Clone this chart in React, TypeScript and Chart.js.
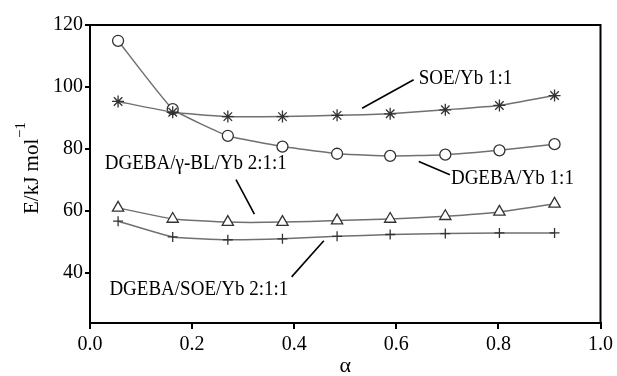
import React, { useEffect, useRef } from "react";
import { Chart, registerables } from "chart.js";

Chart.register(...registerables);

const alphaValues = [0.055, 0.162, 0.27, 0.377, 0.484, 0.588, 0.696, 0.802, 0.91];
const soeYb = [95.3, 91.8, 90.4, 90.4, 90.8, 91.3, 92.6, 94.0, 97.2];
const dgebaYb = [114.9, 92.8, 84.2, 80.7, 78.4, 77.7, 78.1, 79.5, 81.5];
const dgebaGblYb = [60.9, 57.3, 56.3, 56.3, 56.8, 57.3, 58.2, 59.6, 62.2];
const dgebaSoeYb = [56.6, 51.5, 50.6, 50.9, 51.7, 52.3, 52.6, 52.8, 52.8];

const xTicks = [0.0, 0.2, 0.4, 0.6, 0.8, 1.0];
const yTicks = [40, 60, 80, 100, 120];

// annotation labels (data coordinates) with leader lines
const labelTexts = ["SOE/Yb 1:1", "DGEBA/Yb 1:1", "DGEBA/γ-BL/Yb 2:1:1", "DGEBA/SOE/Yb 2:1:1"];
const labelAnchors = [
  [0.644, 102.6],
  [0.707, 70.4],
  [0.029, 75.4],
  [0.038, 34.7],
];
const leaderLines = [
  [0.533, 93.1, 0.634, 102.3],
  [0.644, 75.9, 0.705, 71.6],
  [0.286, 70.0, 0.322, 58.9],
  [0.395, 38.6, 0.458, 50.3],
];

const FONT = "'Liberation Serif', 'Times New Roman', serif";

const toPts = (ys: number[]) => ys.map((y, i) => ({ x: alphaValues[i], y }));

export default function App() {
  const ref = useRef<HTMLCanvasElement | null>(null);

  useEffect(() => {
    if (!ref.current) return;
    const lineColor = "#707070";
    const markColor = "#333";

    const decor = {
      id: "decor",
      afterDraw(chart: any) {
        const ctx = chart.ctx;
        const { left, right, top, bottom } = chart.chartArea;
        const xs = chart.scales.x;
        const ys = chart.scales.y;
        ctx.save();
        // frame top & right
        ctx.strokeStyle = "#000";
        ctx.lineWidth = 2;
        ctx.beginPath();
        ctx.moveTo(left, top);
        ctx.lineTo(right, top);
        ctx.lineTo(right, bottom);
        ctx.stroke();

        // leader lines
        ctx.lineWidth = 1.6;
        leaderLines.forEach((l) => {
          ctx.beginPath();
          ctx.moveTo(xs.getPixelForValue(l[0]), ys.getPixelForValue(l[1]));
          ctx.lineTo(xs.getPixelForValue(l[2]), ys.getPixelForValue(l[3]));
          ctx.stroke();
        });

        // labels (slightly tall type, as in the reference)
        ctx.fillStyle = "#000";
        ctx.font = `19px ${FONT}`;
        ctx.textBaseline = "middle";
        ctx.textAlign = "left";
        labelTexts.forEach((t, i) => {
          const px = xs.getPixelForValue(labelAnchors[i][0]);
          const py = ys.getPixelForValue(labelAnchors[i][1]);
          ctx.save();
          ctx.translate(px, py);
          ctx.scale(1, 1.12);
          ctx.fillText(t, 0, 0);
          ctx.restore();
        });

        // x title
        ctx.textAlign = "center";
        ctx.font = `22px ${FONT}`;
        ctx.fillText("α", (left + right) / 2, 366);

        // y title with superscript
        ctx.translate(30, (top + bottom) / 2 - 6);
        ctx.rotate(-Math.PI / 2);
        ctx.scale(1.05, 1.1);
        const main = "E/kJ mol";
        ctx.font = `20px ${FONT}`;
        const wMain = ctx.measureText(main).width;
        ctx.font = `14px ${FONT}`;
        const sup = "−1";
        const wSup = ctx.measureText(sup).width;
        const total = wMain + wSup + 1;
        ctx.textAlign = "left";
        ctx.textBaseline = "alphabetic";
        ctx.font = `20px ${FONT}`;
        ctx.fillText(main, -total / 2, 7);
        ctx.font = `14px ${FONT}`;
        ctx.fillText(sup, -total / 2 + wMain + 1, -5);
        ctx.restore();
      },
    };

    const mk = (label: string, data: number[], style: any, radius: number, bg: string) => ({
      label,
      data: toPts(data),
      borderColor: lineColor,
      borderWidth: 1.5,
      tension: 0.12,
      pointStyle: style,
      pointRadius: radius,
      pointBorderColor: markColor,
      pointBackgroundColor: bg,
      pointBorderWidth: 1.3,
    });

    const chart = new Chart(ref.current, {
      type: "line",
      data: {
        datasets: [
          mk("SOE/Yb 1:1", soeYb, "star", 6, markColor),
          mk("DGEBA/Yb 1:1", dgebaYb, "circle", 5.5, "#fff"),
          mk("DGEBA/γ-BL/Yb 2:1:1", dgebaGblYb, "triangle", 6.5, "#fff"),
          mk("DGEBA/SOE/Yb 2:1:1", dgebaSoeYb, "cross", 5, markColor),
        ],
      },
      options: {
        responsive: false,
        animation: false,
        layout: { padding: { top: 25, right: 14, left: 0, bottom: 0 } },
        plugins: { legend: { display: false }, tooltip: { enabled: false } },
        scales: {
          x: {
            type: "linear",
            min: 0,
            max: 1,
            afterBuildTicks: (s: any) => {
              s.ticks = xTicks.map((v) => ({ value: v }));
            },
            afterFit: (s: any) => {
              s.height = 53;
            },
            grid: { drawOnChartArea: false, drawTicks: true, tickLength: 6, color: "#000", lineWidth: 2 },
            border: { display: true, color: "#000", width: 2 },
            ticks: {
              color: "#000",
              font: { family: FONT, size: 20 },
              padding: 4,
              maxRotation: 0,
              callback: (v: any) => Number(v).toFixed(1),
            },
          },
          y: {
            type: "linear",
            min: 23.7,
            max: 120,
            afterBuildTicks: (s: any) => {
              s.ticks = yTicks.map((v) => ({ value: v }));
            },
            afterFit: (s: any) => {
              s.width = 90;
            },
            grid: { drawOnChartArea: false, drawTicks: true, tickLength: 5, color: "#000", lineWidth: 2 },
            border: { display: true, color: "#000", width: 2 },
            ticks: {
              color: "#000",
              font: { family: FONT, size: 20 },
              padding: 2,
              callback: (v: any) => String(v),
            },
          },
        },
      },
      plugins: [decor],
    });
    return () => chart.destroy();
  }, []);

  return (
    <div style={{ position: "absolute", left: 0, top: 0, width: 617, height: 376, background: "#fff" }}>
      <canvas ref={ref} width={617} height={376} style={{ width: 617, height: 376 }} />
    </div>
  );
}
